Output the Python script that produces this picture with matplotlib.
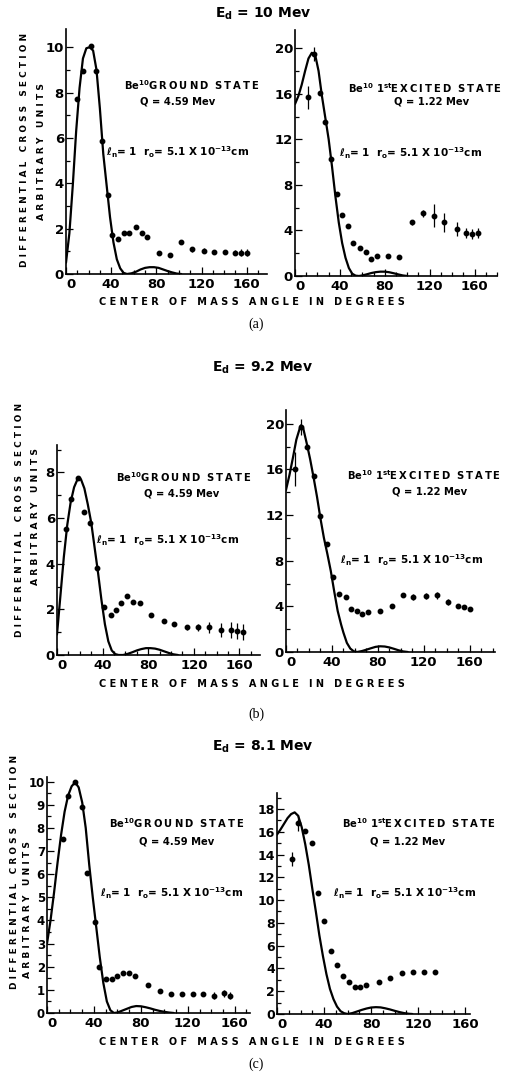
import matplotlib
matplotlib.use("Agg")
import matplotlib.pyplot as plt
from matplotlib.ticker import MultipleLocator

plt.rcParams['font.family'] = ['DejaVu Sans']
plt.rcParams['font.weight'] = 'bold'
plt.rcParams['mathtext.fontset'] = 'dejavusans'
plt.rcParams['mathtext.default'] = 'bf'

# ---------------- data ----------------
# (a) Ed = 10 Mev, ground state
a_gs_ang = [10, 15, 22.5, 27, 32, 37, 41, 46, 51, 56, 62, 67, 72, 82, 92, 102, 112, 122, 131, 141, 150, 155, 160]
a_gs_val = [7.73, 8.97, 10.03, 8.97, 5.87, 3.47, 1.74, 1.55, 1.79, 1.79, 2.05, 1.79, 1.64, 0.94, 0.82, 1.41, 1.09, 1.03, 0.98, 0.98, 0.94, 0.94, 0.94]
a_gs_err = [0, 0, 0, 0, 0, 0, 0, 0, 0, 0, 0, 0, 0, 0, 0, 0, 0.1, 0.1, 0.1, 0.1, 0.12, 0.15, 0.15]
a_gs_th_ang = [0, 3, 6, 9, 12, 15, 18, 21, 24, 27, 30, 33, 36, 39, 42, 45, 48, 51, 54, 58, 62, 66, 70, 74, 78, 82, 86, 90, 94, 98, 102]
a_gs_th_val = [0.5, 1.8, 3.9, 6.3, 8.2, 9.5, 9.95, 10.0, 9.85, 9.0, 7.3, 5.3, 3.9, 2.5, 1.4, 0.65, 0.25, 0.05, 0.0, 0.03, 0.1, 0.2, 0.27, 0.3, 0.3, 0.27, 0.2, 0.13, 0.07, 0.02, 0.0]

# (a) Ed = 10 Mev, 1st excited state
a_ex_ang = [12, 17, 22, 27, 32, 37, 42, 47, 52, 58, 63, 68, 73, 83, 93, 104, 114, 124, 133, 144, 152, 158, 163]
a_ex_val = [15.7, 19.5, 16.1, 13.5, 10.3, 7.2, 5.4, 4.4, 2.9, 2.5, 2.1, 1.5, 1.8, 1.75, 1.7, 4.7, 5.5, 5.3, 4.7, 4.1, 3.8, 3.7, 3.8]
a_ex_err = [1.0, 0.65, 0, 0, 0, 0, 0, 0, 0, 0, 0, 0, 0, 0, 0, 0.2, 0.3, 1.0, 0.8, 0.6, 0.45, 0.45, 0.45]
a_ex_th_ang = [0, 3, 6, 9, 12, 15, 18, 21, 24, 27, 30, 33, 36, 39, 42, 45, 48, 51, 54, 57, 60, 64, 68, 72, 76, 80, 84, 88, 92, 96, 100]
a_ex_th_val = [15.1, 15.8, 16.8, 18.0, 19.1, 19.6, 19.4, 18.0, 15.8, 13.9, 12.0, 9.6, 7.0, 4.7, 2.9, 1.6, 0.7, 0.2, 0.03, 0.0, 0.05, 0.15, 0.26, 0.34, 0.38, 0.38, 0.33, 0.24, 0.14, 0.05, 0.0]

# (b) Ed = 9.2 Mev, ground state
b_gs_ang = [8, 12.5, 18.5, 24, 29, 35, 41, 47, 52, 56.5, 61, 66.5, 72.5, 82.5, 93.5, 103, 114, 123.5, 133.5, 144, 153, 158, 163]
b_gs_val = [5.5, 6.83, 7.75, 6.27, 5.79, 3.79, 2.11, 1.75, 1.97, 2.26, 2.58, 2.33, 2.3, 1.75, 1.49, 1.34, 1.21, 1.21, 1.21, 1.09, 1.09, 1.05, 1.0]
b_gs_err = [0, 0, 0, 0, 0, 0, 0, 0, 0, 0, 0, 0, 0, 0, 0, 0, 0.1, 0.15, 0.25, 0.3, 0.35, 0.35, 0.35]
b_gs_th_ang = [0, 3, 6, 9, 12, 15, 18, 21, 24, 27, 30, 33, 36, 39, 42, 45, 48, 51, 54, 58, 62, 66, 70, 74, 78, 82, 86, 90, 94, 98, 102, 106]
b_gs_th_val = [0.9, 2.6, 4.3, 5.7, 6.7, 7.35, 7.7, 7.7, 7.3, 6.6, 5.8, 4.7, 3.6, 2.4, 1.35, 0.6, 0.2, 0.04, 0.0, 0.0, 0.05, 0.12, 0.2, 0.26, 0.3, 0.3, 0.28, 0.23, 0.16, 0.09, 0.03, 0.0]

# (b) Ed = 9.2 Mev, 1st excited state
b_ex_ang = [8, 13, 18.5, 24, 29.5, 36, 41, 46.5, 52, 56.5, 62, 66.5, 71.5, 81.5, 92, 101.5, 111, 121.5, 131.5, 141, 150, 155, 160]
b_ex_val = [16.0, 19.7, 18.0, 15.4, 11.9, 9.5, 6.6, 5.1, 4.8, 3.74, 3.63, 3.33, 3.54, 3.63, 4.03, 5.0, 4.8, 4.9, 4.97, 4.4, 4.06, 3.98, 3.8]
b_ex_err = [1.5, 0.7, 0, 0, 0, 0, 0, 0.2, 0, 0, 0, 0.2, 0, 0, 0, 0, 0.25, 0.25, 0.3, 0.25, 0, 0, 0]
b_ex_th_ang = [0, 3, 6, 9, 12, 13, 15, 18, 21, 24, 27, 30, 33, 36, 39, 42, 45, 48, 50, 53, 56, 59, 62, 66, 70, 74, 78, 82, 86, 90, 94, 98, 102, 106]
b_ex_th_val = [14.2, 15.5, 17.0, 18.6, 19.6, 19.85, 19.6, 18.3, 16.9, 15.3, 13.6, 11.7, 10.0, 8.6, 7.1, 5.3, 3.6, 2.4, 1.7, 0.8, 0.3, 0.06, 0.0, 0.08, 0.2, 0.33, 0.45, 0.5, 0.48, 0.4, 0.28, 0.15, 0.05, 0.0]

# (c) Ed = 8.1 Mev, ground state
c_gs_ang = [13.5, 18, 24, 29.5, 34.5, 40.5, 44.5, 50, 55, 60, 65, 70, 75, 86, 96, 105.5, 115, 124.5, 133, 142.5, 151, 156]
c_gs_val = [7.5, 9.4, 10.0, 8.9, 6.05, 3.95, 2.0, 1.45, 1.45, 1.6, 1.75, 1.75, 1.6, 1.2, 0.95, 0.8, 0.8, 0.8, 0.8, 0.75, 0.85, 0.75]
c_gs_err = [0, 0, 0, 0, 0, 0, 0, 0, 0, 0, 0, 0, 0, 0, 0, 0, 0, 0, 0, 0.15, 0.15, 0.15]
c_gs_th_ang = [0, 3, 6, 9, 12, 15, 18, 21, 24, 27, 30, 33, 36, 39, 42, 45, 48, 51, 54, 57, 60, 64, 68, 72, 76, 80, 84, 88, 92, 96, 100, 104, 108]
c_gs_th_val = [3.0, 4.0, 5.2, 6.5, 7.7, 8.7, 9.4, 9.8, 9.97, 9.75, 9.1, 8.0, 6.4, 5.0, 3.7, 2.4, 1.3, 0.5, 0.12, 0.0, 0.02, 0.1, 0.18, 0.26, 0.3, 0.29, 0.25, 0.2, 0.14, 0.09, 0.05, 0.02, 0.0]

# (c) Ed = 8.1 Mev, 1st excited state
c_ex_ang = [12.5, 18, 24, 29.5, 35, 40, 45.5, 51, 56, 61.5, 66, 70.5, 76, 87, 96, 106, 115.5, 125, 134.5]
c_ex_val = [13.6, 16.8, 16.1, 15.0, 10.6, 8.2, 5.5, 4.3, 3.35, 2.85, 2.4, 2.4, 2.55, 2.85, 3.2, 3.64, 3.72, 3.67, 3.67]
c_ex_err = [0.65, 0.7, 0, 0, 0, 0, 0, 0, 0, 0, 0, 0, 0, 0, 0, 0, 0, 0, 0]
c_ex_th_ang = [0, 3, 6, 9, 12, 15, 18, 21, 24, 27, 30, 33, 36, 39, 42, 45, 48, 51, 54, 57, 60, 64, 68, 72, 76, 80, 84, 88, 92, 96, 100, 104, 108, 112, 115]
c_ex_th_val = [15.75, 16.2, 16.7, 17.2, 17.55, 17.7, 17.4, 16.4, 14.9, 13.1, 11.0, 9.0, 6.9, 5.1, 3.5, 2.2, 1.3, 0.65, 0.25, 0.07, 0.0, 0.08, 0.22, 0.36, 0.48, 0.57, 0.6, 0.58, 0.5, 0.4, 0.28, 0.17, 0.08, 0.02, 0.0]

x_ticks = [0, 40, 80, 120, 160]
titles = ["E$_d$ = 10 Mev", "E$_d$ = 9.2 Mev", "E$_d$ = 8.1 Mev"]
part_labels = ["(a)", "(b)", "(c)"]
THIN = "\u2009"


def spaced(s):
    return THIN.join(s)


gs_label = "Be$^{10}$" + spaced("GROUND") + "  " + spaced("STATE")
ex_label = "Be$^{10}$ 1$^{st}$" + spaced("EXCITED") + "  " + spaced("STATE")
gs_q = "Q = 4.59 Mev"
ex_q = "Q = 1.22 Mev"
ell_label = r"$\ell_n$= 1  r$_o$= 5.1 X 10$^{-13}$cm"
xlabel = "C E N T E R   O F   M A S S   A N G L E   I N   D E G R E E S"
ylabel1 = "D I F F E R E N T I A L   C R O S S   S E C T I O N"
ylabel2 = "A R B I T R A R Y   U N I T S"

# ---------------- layout ----------------
W, H = 512, 1082
fig = plt.figure(figsize=(W / 100, H / 100), dpi=100)
fig.patch.set_facecolor('white')


def rect(x0, x1, ytop, ybot):
    return [x0 / W, 1 - ybot / H, (x1 - x0) / W, (ybot - ytop) / H]


def fx(x):
    return x / W


def fy(y):
    return 1 - y / H


def panel(r, xmax, ymax, ymaj, ymin, ang, val, err, th_ang, th_val, ylabsize=9.5):
    ax = fig.add_axes(rect(*r))
    ax.plot(th_ang, th_val, color='black', lw=1.6, solid_capstyle='round')
    ax.errorbar(ang, val, yerr=err, fmt='o', color='black', ms=3.2, elinewidth=0.9, capsize=0)
    ax.set_xlim(0, xmax)
    ax.set_ylim(0, ymax)
    for s in ['top', 'right']:
        ax.spines[s].set_visible(False)
    for s in ['left', 'bottom']:
        ax.spines[s].set_linewidth(1.2)
    ax.set_xticks(x_ticks)
    ax.xaxis.set_minor_locator(MultipleLocator(10))
    ax.yaxis.set_major_locator(MultipleLocator(ymaj))
    ax.yaxis.set_minor_locator(MultipleLocator(ymin))
    ax.tick_params(which='both', direction='in', width=0.9)
    ax.tick_params(axis='x', which='major', length=5, labelsize=9.5, pad=3)
    ax.tick_params(axis='y', which='major', length=5, labelsize=ylabsize, pad=1.5)
    ax.tick_params(which='minor', length=3)
    for lab in ax.get_xticklabels() + ax.get_yticklabels():
        lab.set_fontweight('bold')
    # the x "0" sits just right of the corner, as in the original
    ax.xaxis.get_major_ticks()[0].label1.set_horizontalalignment('left')
    ax.patch.set_alpha(0)
    return ax


panel((66, 267, 29, 274), 178, 10.8, 2, 1, a_gs_ang, a_gs_val, a_gs_err, a_gs_th_ang, a_gs_th_val)
panel((295, 497, 30, 276), 180, 21.6, 4, 2, a_ex_ang, a_ex_val, a_ex_err, a_ex_th_ang, a_ex_th_val)
panel((57, 260, 445, 655), 178, 9.2, 2, 1, b_gs_ang, b_gs_val, b_gs_err, b_gs_th_ang, b_gs_th_val)
panel((286, 495, 410, 652), 182, 21.2, 4, 2, b_ex_ang, b_ex_val, b_ex_err, b_ex_th_ang, b_ex_th_val)
panel((47, 250, 777, 1013), 173, 10.2, 1, 0.5, c_gs_ang, c_gs_val, c_gs_err, c_gs_th_ang, c_gs_th_val,
      ylabsize=8.5)
panel((277, 470, 793, 1014), 164, 19.4, 2, 1, c_ex_ang, c_ex_val, c_ex_err, c_ex_th_ang, c_ex_th_val,
      ylabsize=9)

# titles, part labels, axis labels
title_y = [14, 368, 747]
part_y = [324, 714, 1064]
xlab_y = [302, 684, 1042]
ylab1 = [(25, 150), (20, 520), (15, 872)]
ylab2 = [(42, 152), (36, 517), (28, 910)]
for i in range(3):
    fig.text(fx(263), fy(title_y[i]), titles[i], ha='center', va='center', fontsize=10, fontweight='bold')
    fig.text(fx(256), fy(part_y[i]), part_labels[i], ha='center', va='center', fontsize=10,
             family='Liberation Serif', fontweight='normal')
    fig.text(fx(252), fy(xlab_y[i]), xlabel, ha='center', va='center', fontsize=7, fontweight='bold')
    fig.text(fx(ylab1[i][0]), fy(ylab1[i][1]), ylabel1, ha='center', va='center', rotation=90,
             fontsize=6.4, fontweight='bold')
    fig.text(fx(ylab2[i][0]), fy(ylab2[i][1]), ylabel2, ha='center', va='center', rotation=90,
             fontsize=6.6, fontweight='bold')

# annotations (state, Q, l_n)
ann = [
    (192, 85, 178, 101, 178, 152),
    (425, 88, 432, 102, 411, 153),
    (184, 477, 182, 493, 168, 540),
    (424, 475, 430, 492, 412, 560),
    (177, 823, 177, 842, 172, 893),
    (419, 823, 408, 842, 405, 893),
]
for k, (sx, sy, qx, qy, lx, ly) in enumerate(ann):
    lbl = gs_label if k % 2 == 0 else ex_label
    q = gs_q if k % 2 == 0 else ex_q
    fig.text(fx(sx), fy(sy), lbl, ha='center', va='center', fontsize=7.2, fontweight='bold')
    fig.text(fx(qx), fy(qy), q, ha='center', va='center', fontsize=7.2, fontweight='bold')
    fig.text(fx(lx), fy(ly), ell_label, ha='center', va='center', fontsize=7.5, fontweight='bold')

fig.savefig('out.png', dpi=100, facecolor='white')
